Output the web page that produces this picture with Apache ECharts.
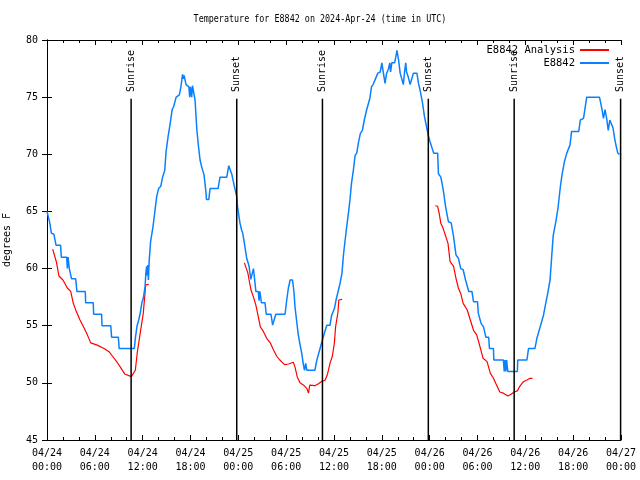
<!DOCTYPE html>
<html>
<head>
<meta charset="utf-8">
<script src="https://cdn.jsdelivr.net/npm/echarts@6/dist/echarts.min.js"></script>
<style>html,body{margin:0;padding:0;background:#fff}#c{width:640px;height:480px}</style>
</head>
<body>
<div id="c"></div>
<script>
// time in hours since 2024-04-24 00:00 UTC
const stationName = 'E8842';
const analysisName = 'E8842 Analysis';
const xTickHours = [0, 6, 12, 18, 24, 30, 36, 42, 48, 54, 60, 66, 72];
const yTicks = [45, 50, 55, 60, 65, 70, 75, 80];

const stationTemps = [
[0,65],[0.1,65],[0.35,64.0],[0.55,63.1],[0.87,63.0],[1.13,62.05],[1.7,62.05],[1.8,61.0],[2.47,61.0],[2.55,60.0],[2.65,61.0],[2.75,61.0],[2.8,60.0],[3.0,60.0],[3.08,59.1],[3.6,59.1],[3.75,58.0],[4.8,58.0],[4.85,57.0],[5.8,57.0],[5.85,56.0],[6.85,56.0],[6.9,55.0],[8.0,55.0],[8.1,54.0],[8.95,54.0],[9.05,53.0],[10.95,53.0],
[11.1,54.0],[11.3,55.0],[11.5,55.5],[11.67,56.0],[11.9,57.0],[12.08,57.4],[12.3,58.4],[12.4,59.6],[12.5,60.2],[12.58,59.4],[12.65,60.3],[12.72,59.0],[12.8,60.5],[13.0,62.4],[13.26,63.5],[13.4,64.25],[13.6,65.4],[13.76,66.3],[14.0,67.0],[14.27,67.2],[14.5,68.0],[14.77,68.6],[14.93,70.2],[15.18,71.5],[15.43,72.6],[15.7,73.9],[15.9,74.2],[16.2,75.0],[16.6,75.2],[16.8,75.9],[17.0,77.0],[17.1,76.6],[17.2,76.9],[17.44,76.1],[17.8,75.9],[17.9,75.0],[18.0,75.9],[18.15,75.0],[18.25,76.0],[18.57,74.75],[18.8,72.1],[19.0,70.7],[19.2,69.5],[19.4,68.9],[19.7,68.2],[19.95,66.6],[20.0,66.05],[20.3,66.05],[20.45,67.0],[21.46,67.0],[21.7,68.0],[22.55,68.0],[22.8,69.0],[23.05,69.0],[23.2,68.2],[23.5,67.2],[23.8,66.3],[23.9,65.4],[24.2,64.0],[24.4,63.4],[24.55,63.1],[24.76,62.2],[25.05,60.9],[25.35,60.2],[25.56,59.06],[25.75,59.1],[25.9,60.0],[26.1,60.0],[26.2,58.0],[26.5,58.0],[26.6,57.2],[26.7,58.0],[26.9,57.0],[27.35,57.0],[27.5,56.0],[28.1,56.0],[28.3,55.05],[28.5,55.05],[28.7,56.0],[29.86,56.0],[30.07,57.25],[30.28,58.3],[30.5,59.0],[30.8,59.0],[31.0,57.8],[31.1,56.7],[31.3,55.5],[31.5,54.3],[31.7,53.5],[31.95,52.6],[32.16,51.6],[32.3,51.1],[32.45,51.7],[32.6,51.1],[33.6,51.1],[33.85,52.0],[34.0,52.0],[34.25,53.0],[34.5,53.0],[34.67,54.05],[35.1,55.05],[35.5,55.05],[35.7,55.9],[36.05,56.5],[36.26,57.25],[36.55,58.1],[36.76,58.7],[37.0,59.6],[37.2,61.3],[37.4,62.5],[37.6,63.7],[37.8,64.8],[38.0,66.0],[38.2,67.5],[38.43,68.6],[38.65,69.9],[38.85,70.1],[39.06,71.0],[39.3,71.8],[39.56,72.1],[39.8,73.0],[40.1,73.9],[40.3,74.0],[40.5,74.9],[40.7,75.9],[40.9,76.1],[41.2,76.6],[41.5,77.1],[41.8,77.2],[42.0,78.0],[42.2,78.0],[42.4,76.2],[42.6,77.1],[42.8,77.4],[43.0,78.0],[43.1,77.2],[43.25,78.0],[43.6,78.0],[43.75,78.5],[43.9,79.1],[44.1,78.25],[44.3,77.1],[44.5,77.1],[44.7,76.1],[44.85,77.2],[45.0,78.0],[45.1,77.2],[45.3,76.8],[45.55,76.1],[45.76,76.1],[45.96,77.1],[46.4,77.1],[46.6,76.2],[46.8,75.6],[47.1,74.5],[47.35,73.3],[47.64,72.3],[47.85,71.6],[48.05,71.1],[48.5,70.1],[49.0,70.1],[49.1,68.3],[49.4,68.0],[49.7,66.9],[50.0,65.4],[50.35,64.1],[50.7,64.0],[51.0,62.8],[51.3,61.2],[51.6,60.9],[51.9,60.0],[52.2,59.9],[52.5,59.0],[52.75,58.9],[52.9,58.0],[53.3,58.0],[53.5,57.1],[54.0,57.1],[54.1,56.1],[54.45,55.2],[54.75,54.9],[55.05,54.0],[55.4,54.0],[55.5,53.0],[56.0,53.0],[56.05,52.0],[57.25,52.0],[57.35,51.0],[57.45,52.0],[57.55,51.0],[57.65,52.0],[57.8,51.0],[59.0,51.0],[59.05,52.0],[60.2,52.0],[60.4,53.0],[61.2,53.0],[61.45,53.9],[61.7,54.0],[61.86,54.9],[62.07,55.0],[62.27,55.9],[62.57,57.0],[62.8,57.8],[63.1,59.0],[63.3,61.0],[63.5,62.9],[63.8,64.0],[64.1,65.3],[64.4,67.2],[64.6,68.2],[64.9,69.35],[65.2,70.1],[65.6,70.8],[65.8,72.0],[66.7,72.0],[66.9,73.0],[67.3,73.15],[67.7,75.0],[69.3,75.0],[69.6,74.0],[69.8,73.15],[70.0,73.9],[70.2,73.15],[70.4,72.1],[70.6,73.0],[70.8,73.0],[71.0,72.3],[71.2,71.4],[71.4,70.7],[71.6,70.1],[71.8,70.0]
];

const analysisTemps = [
[0.71,61.7],[0.85,61.6],[1.17,60.6],[1.5,59.35],[2.0,59.0],[2.55,58.3],[2.97,58.0],[3.3,56.96],[3.64,56.3],[4.14,55.5],[4.64,54.83],[5.06,54.2],[5.48,53.5],[6.3,53.3],[7.15,53.0],[7.78,52.73],[8.2,52.35],[8.8,51.8],[9.3,51.27],[9.74,50.78],[10.58,50.55],[10.83,50.5],[11.08,51.1],[11.33,52.7],[11.67,54.25],[12.08,56.1],[12.38,58.57],[12.76,58.62],
null,
[24.76,60.5],[24.95,60.4],[25.2,59.6],[25.35,59.0],[25.6,58.1],[25.9,57.5],[26.2,56.8],[26.5,55.8],[26.76,54.9],[27.14,54.5],[27.56,53.9],[28.0,53.5],[28.4,52.9],[28.8,52.35],[29.2,52.0],[29.8,51.6],[30.3,51.65],[30.9,51.8],[31.1,51.4],[31.4,50.5],[31.74,50.0],[32.2,49.8],[32.6,49.5],[32.8,49.1],[32.96,49.8],[33.6,49.75],[34.0,49.9],[34.4,50.1],[34.9,50.25],[35.2,50.8],[35.5,51.7],[35.8,52.35],[36.05,53.5],[36.2,54.9],[36.5,56.2],[36.6,57.25],[37.0,57.3],
null,
[48.7,65.5],[49.0,65.45],[49.2,64.8],[49.4,63.96],[49.7,63.5],[49.9,63.4],[50.3,62.2],[50.56,60.6],[51.0,60.2],[51.3,59.15],[51.6,58.3],[51.9,57.8],[52.2,56.96],[52.7,56.4],[53.1,55.5],[53.5,54.6],[53.9,54.2],[54.3,53.2],[54.7,52.15],[55.2,51.86],[55.6,50.85],[56.0,50.4],[56.4,49.8],[56.8,49.2],[57.25,49.1],[57.8,48.85],[58.2,49.0],[58.6,49.2],[59.0,49.3],[59.3,49.7],[59.76,50.1],[60.2,50.25],[60.6,50.4],[60.9,50.4]
];

const sunEventHours = [10.55, 23.8, 34.55, 47.83, 58.6, 71.95];
const sunEventLabels = ['Sunrise', 'Sunset', 'Sunrise', 'Sunset', 'Sunrise', 'Sunset'];

const FONT = 'DejaVu Sans Mono';
const chart = echarts.init(document.getElementById('c'));

function xLabel(v) {
  const day = 24 + Math.floor(v / 24);
  const hr = Math.round(v % 24);
  return '04/' + day + '\n' + String(hr).padStart(2, '0') + ':00';
}

const xCommon = {
  type: 'value', min: 0, max: 72, interval: 6,
  axisLine: { show: true, lineStyle: { color: '#000', width: 1 } },
  axisTick: { show: true, inside: true, length: 5, lineStyle: { color: '#000' } },
  minorTick: { show: true, splitNumber: 3, length: 3, lineStyle: { color: '#000' } },
  splitLine: { show: false }
};
const yCommon = {
  type: 'value', min: 45, max: 80, interval: 5,
  axisLine: { show: true, lineStyle: { color: '#000', width: 1 } },
  axisTick: { show: true, inside: true, length: 5, lineStyle: { color: '#000' } },
  splitLine: { show: false }
};

chart.setOption({
  animation: false,
  backgroundColor: '#fff',
  graphic: [{
    type: 'text', x: 320, y: 19, scaleX: 0.84,
    style: { text: 'Temperature for E8842 on 2024-Apr-24 (time in UTC)', font: '10px "DejaVu Sans Mono"', fill: '#000', textAlign: 'center', textVerticalAlign: 'middle' }
  }],
  grid: { left: 47, right: 19, top: 40, bottom: 40, containLabel: false, outerBoundsMode: 'none' },
  legend: {
    data: [analysisName, stationName],
    orient: 'vertical', right: 30, top: 43.5, padding: 0,
    align: 'right', itemWidth: 29, itemHeight: 2, itemGap: 0,
    textStyle: { fontFamily: FONT, fontSize: 10.5, color: '#000', lineHeight: 13 }
  },
  xAxis: [
    Object.assign({}, xCommon, {
      position: 'bottom',
      axisLabel: { show: true, formatter: xLabel, fontFamily: FONT, fontSize: 10, color: '#000', lineHeight: 14, margin: 6 }
    }),
    Object.assign({}, xCommon, { position: 'top', axisLabel: { show: false } })
  ],
  yAxis: [
    Object.assign({}, yCommon, {
      position: 'left',
      name: 'degrees F', nameLocation: 'middle', nameGap: 35, nameRotate: 90,
      nameTextStyle: { fontFamily: FONT, fontSize: 10, color: '#000' },
      axisLabel: { show: true, fontFamily: FONT, fontSize: 10, color: '#000', margin: 9 }
    }),
    Object.assign({}, yCommon, { position: 'right', axisLabel: { show: false } })
  ],
  series: [
    {
      name: analysisName, type: 'line', data: analysisTemps, color: '#ff0000',
      symbol: 'none', connectNulls: false, lineStyle: { width: 1.2, color: '#ff0000' }, z: 3
    },
    {
      name: stationName, type: 'line', data: stationTemps, color: '#0a80ff',
      symbol: 'none', lineStyle: { width: 1.5, color: '#0a80ff' }, z: 4
    },
    {
      type: 'custom', name: 'sun', data: sunEventHours.map(t => [t, 60]), clip: false, z: 5,
      encode: { x: 0, y: 1 },
      renderItem: function (params, api) {
        const t = api.value(0);
        const p0 = api.coord([t, 45]);
        const p1 = api.coord([t, 74.85]);
        const pl = api.coord([t, 75.45]);
        return {
          type: 'group', children: [
            { type: 'line', shape: { x1: p0[0], y1: p0[1], x2: p1[0], y2: p1[1] }, style: { stroke: '#000', lineWidth: 1.5 } },
            { type: 'text', x: pl[0], y: pl[1], rotation: Math.PI / 2,
              style: { text: sunEventLabels[params.dataIndex], font: '10px "DejaVu Sans Mono"', fill: '#000', textAlign: 'left', textVerticalAlign: 'middle' } }
          ]
        };
      }
    }
  ]
});
</script>
</body>
</html>
